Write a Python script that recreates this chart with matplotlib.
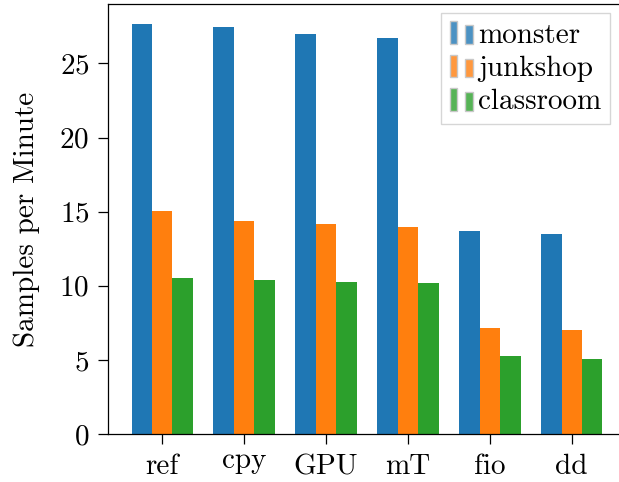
import numpy as np
import matplotlib
matplotlib.use('Agg')
import matplotlib.pyplot as plt
from matplotlib.patches import Patch, Rectangle
from matplotlib.transforms import ScaledTranslation

plt.rcParams['font.family'] = 'serif'
plt.rcParams['font.serif'] = ['cmr10']
plt.rcParams['mathtext.fontset'] = 'cm'
plt.rcParams['axes.formatter.use_mathtext'] = True

# samples per minute for each scene, per configuration
configs = ['ref', 'cpy', 'GPU', 'mT', 'fio', 'dd']
monster = [27.63, 27.49, 27.02, 26.75, 13.68, 13.48]
junkshop = [15.03, 14.35, 14.15, 13.95, 7.14, 7.01]
classroom = [10.51, 10.38, 10.24, 10.17, 5.26, 5.05]

scenes = ['monster', 'junkshop', 'classroom']
colors = ['tab:blue', 'tab:orange', 'tab:green']
fs = 21


class BarPairHandler:
    """Draws a legend key as two slim bars, the second a bit shorter."""
    def legend_artist(self, legend, orig_handle, fontsize, handlebox):
        x0, y0 = -handlebox.xdescent, -handlebox.ydescent
        w, h = handlebox.width, handlebox.height
        bw = w * 0.33
        kw = dict(facecolor=orig_handle.get_facecolor(), edgecolor='#c8c8c8',
                  lw=1, transform=handlebox.get_transform())
        r1 = Rectangle((x0, y0), bw, h, **kw)
        r2 = Rectangle((x0 + w - bw, y0), bw, h * 0.82, **kw)
        handlebox.add_artist(r1)
        handlebox.add_artist(r2)
        return r1


fig = plt.figure(figsize=(6.19, 4.82), dpi=100)
ax = fig.add_axes([108 / 619, 48 / 482, 518 / 619, 430 / 482])

x = np.arange(len(configs))
w = 0.25
for i, vals in enumerate([monster, junkshop, classroom]):
    ax.bar(x + (i - 1) * w, vals, w, color=colors[i])

ax.set_xticks(x)
ax.set_xticklabels(configs)
ax.set_yticks([0, 5, 10, 15, 20, 25])
ax.tick_params(labelsize=fs, length=7.5, width=0.9, pad=6)
ax.tick_params(axis='x', pad=7)
ax.set_ylabel('Samples per Minute', fontsize=fs, labelpad=14)
for s in ax.spines.values():
    s.set_linewidth(0.9)

# labels without ascenders sit higher (top-aligned on ink)
for lab in ax.get_xticklabels():
    if lab.get_text() == 'cpy':
        lab.set_transform(lab.get_transform() + ScaledTranslation(0, 5 / 72, fig.dpi_scale_trans))

handles = [Patch(facecolor=c, alpha=0.8) for c in colors]
ax.legend(handles, scenes, handler_map={Patch: BarPairHandler()},
          loc='upper right', bbox_to_anchor=(610 / 619, 1 - 12.5 / 482),
          bbox_transform=fig.transFigure, borderaxespad=0, fontsize=fs,
          handlelength=0.79, handleheight=0.82, handletextpad=0.18,
          labelspacing=0.2, borderpad=0.3, fancybox=False, edgecolor='#cccccc')

fig.savefig('out.png', dpi=100)
